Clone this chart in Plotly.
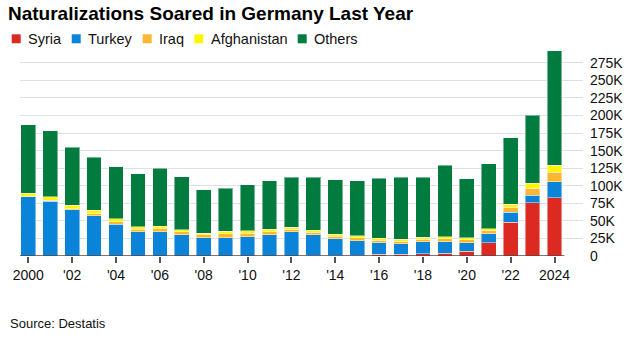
import plotly.graph_objects as go

years = list(range(2000, 2025))
# values in thousands
syria = [0, 0, 0, 0, 0, 0, 0, 0, 0, 0, 0, 0, 0, 0.1, 0.4, 0.6, 2.3, 2.5, 2.9, 3.9, 6.7, 19.1, 48.3, 75.5, 83.2]
turkey = [84, 78, 65.5, 57, 45.5, 34.2, 34.5, 30.2, 26, 26, 27.3, 30.2, 34.4, 30.2, 24.2, 21.2, 16.4, 15.0, 17.5, 16.5, 12.2, 12.8, 14.2, 10.7, 22.5]
iraq = [1.0, 1.3, 1.7, 3.0, 3.6, 4.1, 4.5, 4.6, 4.2, 5.5, 5.3, 4.4, 3.8, 3.7, 3.4, 4.1, 4.0, 3.8, 3.8, 4.3, 4.3, 3.7, 6.7, 10.4, 13.8]
afghanistan = [4.5, 4.9, 5.0, 5.2, 4.1, 3.1, 3.2, 2.8, 2.5, 3.4, 3.3, 3.2, 2.8, 2.5, 2.9, 2.8, 2.5, 2.4, 2.4, 2.8, 2.8, 2.9, 4.5, 6.7, 10.0]
others = [97.2, 93.9, 82.3, 75.5, 74.0, 75.8, 82.4, 75.4, 61.8, 61.2, 65.7, 69.1, 71.3, 75.9, 77.5, 78.6, 85.2, 88.5, 85.7, 101.4, 83.9, 93.1, 94.8, 96.8, 162.5]

series_names = ["Syria", "Turkey", "Iraq", "Afghanistan", "Others"]
series_values = [syria, turkey, iraq, afghanistan, others]
colors = ["#dc2a22", "#0a84d9", "#fbb731", "#fff500", "#027b3e"]

x_tick_vals = list(range(2000, 2025, 2))
x_tick_text = ["2000", "'02", "'04", "'06", "'08", "'10", "'12", "'14", "'16", "'18", "'20", "'22", "2024"]
y_tick_vals = [0, 25, 50, 75, 100, 125, 150, 175, 200, 225, 250, 275]
y_tick_text = ["0", "25K", "50K", "75K", "100K", "125K", "150K", "175K", "200K", "225K", "250K", "275K"]

FONT = "Liberation Sans, Arial, sans-serif"

fig = go.Figure()
for name, vals, col in zip(series_names, series_values, colors):
    fig.add_trace(go.Bar(
        x=years, y=vals, name=name,
        marker=dict(color=col, line=dict(color="rgba(255,255,255,0.45)", width=1)),
        showlegend=False,
    ))

# custom legend (squares + text)
legend_sq_x = [11.7, 71.7, 142.7, 194.3, 297.7]
shapes = []
annotations = []
for name, col, sx in zip(series_names, colors, legend_sq_x):
    shapes.append(dict(type="rect", xref="paper", yref="paper",
                       x0=(sx - 20) / 563, x1=(sx + 9 - 20) / 563,
                       y0=(256 - 43.3) / 207, y1=(256 - 34.3) / 207,
                       fillcolor=col, line=dict(width=0)))
    annotations.append(dict(text=name, xref="paper", yref="paper",
                            x=(sx + 14.3 - 20) / 563, y=(256 - 39) / 207,
                            xanchor="left", yanchor="middle", showarrow=False,
                            font=dict(family=FONT, size=14.5, color="#111")))

# baseline
shapes.append(dict(type="line", xref="x", yref="y",
                   x0=years[0] - 0.38, x1=years[-1] + 0.45, y0=0, y1=0,
                   line=dict(color="#5a4444", width=1.5)))

annotations.append(dict(text="<b>Naturalizations Soared in Germany Last Year</b>",
                        xref="paper", yref="paper", x=(6 - 20) / 563, y=(256 - 13.5) / 207,
                        xanchor="left", yanchor="middle", showarrow=False,
                        font=dict(family=FONT, size=19, color="#000")))
annotations.append(dict(text="Source: Destatis",
                        xref="paper", yref="paper", x=(8 - 20) / 563, y=(256 - 323) / 207,
                        xanchor="left", yanchor="middle", showarrow=False,
                        font=dict(family=FONT, size=13, color="#111")))

fig.update_layout(
    width=640, height=341,
    margin=dict(l=20, r=57, t=49, b=85),
    barmode="stack", bargap=0.33,
    paper_bgcolor="white", plot_bgcolor="white",
    font=dict(family=FONT, size=14, color="#111"),
    shapes=shapes, annotations=annotations,
    xaxis=dict(range=[1999.62, 2025.3], tickvals=x_tick_vals, ticktext=x_tick_text,
               ticks="outside", ticklen=6, tickwidth=1.5, tickcolor="#555",
               showgrid=False, zeroline=False, showline=False,
               tickfont=dict(family=FONT, size=14, color="#111")),
    yaxis=dict(range=[0, 294.6], side="right", tickvals=y_tick_vals, ticktext=y_tick_text,
               showgrid=True, gridcolor="#e0e0e0", gridwidth=1, zeroline=False,
               showline=False, ticks="", ticklabelstandoff=6,
               tickfont=dict(family=FONT, size=14, color="#111")),
)

fig.write_html("out.html")
